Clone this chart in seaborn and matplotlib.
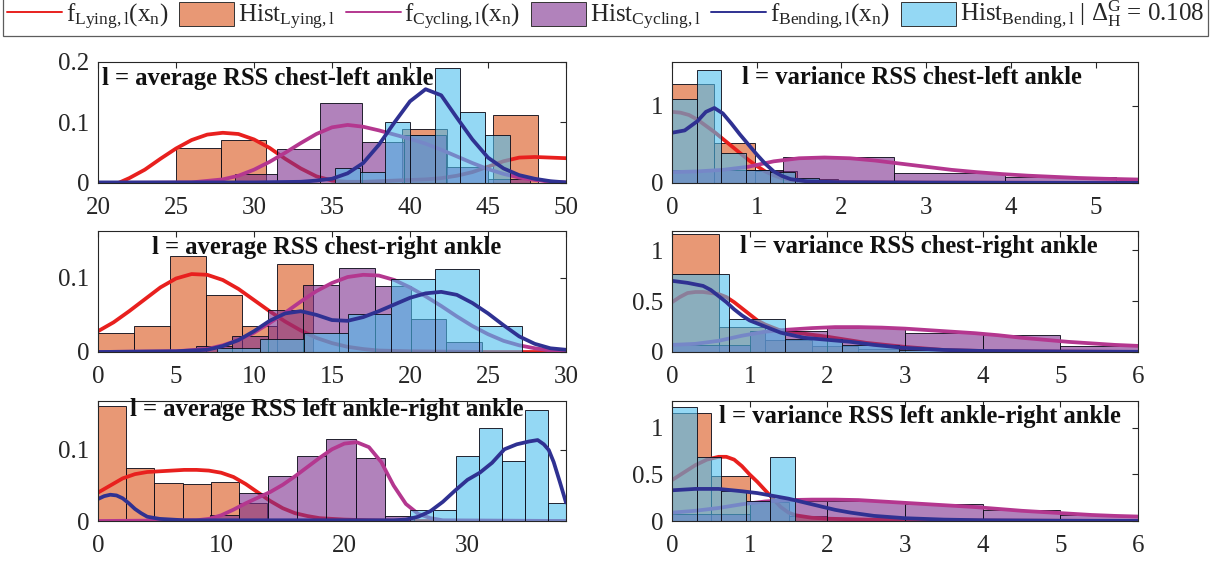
import numpy as np
import pandas as pd
import matplotlib
matplotlib.use("Agg")
import matplotlib.pyplot as plt
from matplotlib.lines import Line2D
from matplotlib.patches import Patch
import seaborn as sns

sns.set_theme(style="white")
plt.rcParams["font.family"] = ["Liberation Serif", "DejaVu Serif"]
plt.rcParams["mathtext.fontset"] = "custom"
plt.rcParams["mathtext.rm"] = "Liberation Serif"
plt.rcParams["mathtext.it"] = "Liberation Serif:italic"
plt.rcParams["mathtext.bf"] = "Liberation Serif:bold"

# ---------------------------------------------------------------- data
# Panel 1: average RSS chest-left ankle
p1_lying_edges = [25.0, 27.9, 30.8, 33.7, 36.6, 39.5, 42.4, 45.3, 48.2]
p1_lying_hist = [0.058, 0.071, 0.0, 0.0, 0.0, 0.090, 0.0, 0.113]
p1_cyc_edges = [28.8, 31.5, 34.2, 36.9, 39.6, 42.3, 45.0, 47.7]
p1_cyc_hist = [0.015, 0.056, 0.133, 0.068, 0.080, 0.027, 0.007]
p1_bend_edges = [35.2, 36.8, 38.4, 40.0, 41.6, 43.2, 44.8, 46.4]
p1_bend_hist = [0.025, 0.018, 0.101, 0.080, 0.190, 0.117, 0.079]
p1_lying_fx = [21.3, 22, 23, 24, 25, 26, 27, 28, 29, 30, 31, 32, 33, 34, 35, 36, 37, 38,
               39, 40, 41, 42, 43, 44, 45, 46, 47, 48, 49, 50]
p1_lying_fy = [0.0, 0.008, 0.022, 0.040, 0.057, 0.071, 0.080, 0.083, 0.081, 0.072, 0.058,
               0.040, 0.024, 0.011, 0.004, 0.002, 0.002, 0.003, 0.004, 0.005, 0.006, 0.008,
               0.012, 0.018, 0.027, 0.036, 0.042, 0.043, 0.042, 0.041]
p1_cyc_fx = [20, 26, 28, 29, 30, 31, 32, 33, 34, 35, 36, 37, 38, 39, 40, 41, 42, 43, 44, 45,
             46, 47, 48, 49, 50]
p1_cyc_fy = [0.0, 0.001, 0.006, 0.012, 0.022, 0.035, 0.050, 0.066, 0.081, 0.092, 0.096,
             0.093, 0.087, 0.080, 0.073, 0.065, 0.055, 0.044, 0.033, 0.023, 0.015, 0.009,
             0.005, 0.002, 0.001]
p1_bend_fx = [20, 30, 33, 34, 35, 36, 37, 38, 39, 40, 41, 42, 43, 44, 45, 46, 47, 48, 49, 50]
p1_bend_fy = [0.001, 0.001, 0.002, 0.004, 0.007, 0.016, 0.033, 0.063, 0.100, 0.135, 0.155,
              0.145, 0.108, 0.072, 0.042, 0.024, 0.013, 0.007, 0.003, 0.001]

# Panel 2: variance RSS chest-left ankle
p2_lying_edges = [0.0, 0.49, 0.98, 1.47, 1.96, 2.45]
p2_lying_hist = [1.28, 0.52, 0.15, 0.05, 0.02]
p2_cyc_edges = [0.0, 1.31, 2.62, 3.93, 5.24, 6.55]
p2_cyc_hist = [0.17, 0.33, 0.13, 0.078, 0.03]
p2_bend_edges = [0.0, 0.29, 0.58, 0.87, 1.16, 1.45, 1.74, 2.03, 2.32, 2.61]
p2_bend_hist = [1.09, 1.46, 0.39, 0.17, 0.14, 0.06, 0.03, 0.02, 0.01]
p2_lying_fx = [0, 0.1, 0.2, 0.3, 0.4, 0.5, 0.6, 0.7, 0.8, 0.9, 1.0, 1.1, 1.2, 1.3, 1.4, 1.6,
               2.0, 3.0, 5.5]
p2_lying_fy = [0.92, 0.91, 0.88, 0.82, 0.74, 0.66, 0.57, 0.48, 0.39, 0.30, 0.22, 0.15, 0.10,
               0.06, 0.04, 0.02, 0.01, 0.005, 0.0]
p2_cyc_fx = [0, 0.3, 0.6, 0.9, 1.2, 1.5, 1.8, 2.1, 2.4, 2.7, 3.0, 3.3, 3.6, 3.9, 4.2, 4.5,
             4.8, 5.1, 5.5]
p2_cyc_fy = [0.14, 0.15, 0.17, 0.21, 0.28, 0.32, 0.33, 0.32, 0.29, 0.25, 0.21, 0.17, 0.14,
             0.115, 0.095, 0.08, 0.065, 0.055, 0.045]
p2_bend_fx = [0, 0.15, 0.3, 0.4, 0.5, 0.6, 0.7, 0.8, 0.9, 1.0, 1.1, 1.2, 1.3, 1.4, 1.6, 2.0,
              3.0, 5.5]
p2_bend_fy = [0.65, 0.68, 0.80, 0.92, 0.97, 0.90, 0.77, 0.63, 0.50, 0.37, 0.25, 0.15, 0.09,
              0.05, 0.02, 0.01, 0.005, 0.0]

# Panel 3: average RSS chest-right ankle
p3_lying_edges = [0.0, 2.3, 4.6, 6.9, 9.2, 11.5, 13.8]
p3_lying_hist = [0.025, 0.035, 0.129, 0.077, 0.035, 0.119]
p3_cyc_edges = [6.3, 8.59, 10.88, 13.17, 15.46, 17.75, 20.04, 22.33, 24.62]
p3_cyc_hist = [0.008, 0.021, 0.056, 0.090, 0.113, 0.089, 0.045, 0.013]
p3_bend_edges = [7.6, 10.4, 13.2, 16.0, 18.8, 21.6, 24.4, 27.2]
p3_bend_hist = [0.005, 0.018, 0.025, 0.051, 0.099, 0.112, 0.035]
p3_lying_fx = [0, 1, 2, 3, 4, 5, 6, 7, 8, 9, 10, 11, 12, 13, 14, 15, 16, 17, 18, 20, 25, 30]
p3_lying_fy = [0.028, 0.040, 0.055, 0.071, 0.087, 0.099, 0.105, 0.104, 0.097, 0.085, 0.070,
               0.055, 0.041, 0.029, 0.019, 0.012, 0.007, 0.004, 0.002, 0.001, 0.0, 0.0]
p3_cyc_fx = [0, 5, 7, 8, 9, 10, 11, 12, 13, 14, 15, 16, 17, 18, 19, 20, 21, 22, 23, 24, 25,
             26, 27, 28, 29, 30]
p3_cyc_fy = [0.0, 0.001, 0.004, 0.009, 0.016, 0.026, 0.039, 0.053, 0.068, 0.082, 0.093,
             0.101, 0.104, 0.103, 0.097, 0.087, 0.075, 0.062, 0.048, 0.035, 0.024, 0.015,
             0.009, 0.005, 0.002, 0.001]
p3_bend_fx = [0, 5, 7, 8, 9, 10, 11, 12, 13, 14, 15, 16, 17, 18, 19, 20, 21, 22, 23, 24, 25,
              26, 27, 28, 29, 30]
p3_bend_fy = [0.0, 0.001, 0.003, 0.008, 0.016, 0.028, 0.042, 0.052, 0.055, 0.050, 0.043,
              0.042, 0.047, 0.055, 0.064, 0.073, 0.079, 0.081, 0.077, 0.066, 0.052, 0.036,
              0.021, 0.011, 0.005, 0.003]

# Panel 4: variance RSS chest-right ankle
p4_lying_edges = [0.0, 0.6, 1.2, 1.8, 2.4, 3.0]
p4_lying_hist = [1.16, 0.25, 0.12, 0.06, 0.03]
p4_cyc_edges = [0, 1, 2, 3, 4, 5, 6]
p4_cyc_hist = [0.07, 0.21, 0.233, 0.19, 0.167, 0.06]
p4_bend_edges = [0.0, 0.73, 1.46, 2.19, 2.92, 3.65, 4.38]
p4_bend_hist = [0.77, 0.32, 0.127, 0.067, 0.02, 0.01]
p4_lying_fx = [0, 0.1, 0.2, 0.3, 0.4, 0.5, 0.6, 0.7, 0.8, 0.9, 1.0, 1.1, 1.2, 1.3, 1.4, 1.6,
               2.0, 2.5, 3.0, 3.5, 4.0, 6.0]
p4_lying_fy = [0.49, 0.54, 0.58, 0.59, 0.59, 0.58, 0.57, 0.54, 0.49, 0.43, 0.37, 0.31, 0.27,
               0.24, 0.21, 0.19, 0.15, 0.09, 0.05, 0.02, 0.01, 0.0]
p4_cyc_fx = [0, 0.3, 0.6, 0.9, 1.2, 1.5, 1.8, 2.1, 2.4, 2.7, 3.0, 3.3, 3.6, 3.9, 4.2, 4.5,
             4.8, 5.1, 5.4, 5.7, 6.0]
p4_cyc_fy = [0.07, 0.08, 0.11, 0.16, 0.20, 0.22, 0.235, 0.245, 0.245, 0.24, 0.23, 0.215,
             0.20, 0.185, 0.165, 0.14, 0.12, 0.10, 0.085, 0.07, 0.06]
p4_bend_fx = [0, 0.2, 0.4, 0.5, 0.6, 0.7, 0.8, 0.9, 1.0, 1.2, 1.4, 1.7, 2.0, 2.3, 2.6, 3.0,
              3.5, 4.0, 5.0, 6.0]
p4_bend_fy = [0.70, 0.68, 0.65, 0.61, 0.55, 0.49, 0.42, 0.36, 0.31, 0.25, 0.19, 0.14, 0.12,
              0.10, 0.07, 0.04, 0.02, 0.01, 0.005, 0.002]

# Panel 5: average RSS left ankle-right ankle
p5_lying_edges = [0.0, 2.29, 4.58, 6.87, 9.16, 11.45, 13.74]
p5_lying_hist = [0.162, 0.075, 0.053, 0.052, 0.055, 0.026]
p5_cyc_edges = [9.07, 11.44, 13.81, 16.18, 18.55, 20.92, 23.29, 25.66]
p5_cyc_hist = [0.008, 0.040, 0.064, 0.092, 0.115, 0.089, 0.007]
p5_bend_edges = [25.3, 27.17, 29.04, 30.91, 32.78, 34.65, 36.52, 38.39]
p5_bend_hist = [0.016, 0.015, 0.092, 0.131, 0.085, 0.156, 0.026]
p5_lying_fx = [0, 1, 2, 3, 4, 5, 6, 7, 8, 9, 10, 11, 12, 13, 14, 15, 16, 17, 18, 20, 22, 25, 38]
p5_lying_fy = [0.040, 0.050, 0.060, 0.066, 0.069, 0.070, 0.071, 0.072, 0.072, 0.071, 0.068,
               0.062, 0.052, 0.040, 0.028, 0.018, 0.011, 0.007, 0.004, 0.002, 0.001, 0.0, 0.0]
p5_cyc_fx = [0, 8, 9, 10, 11, 12, 13, 14, 15, 16, 17, 18, 19, 20, 21, 22, 23, 24, 25, 26, 27,
             28, 38]
p5_cyc_fy = [0.0, 0.001, 0.003, 0.008, 0.016, 0.025, 0.033, 0.041, 0.051, 0.063, 0.076, 0.089,
             0.101, 0.109, 0.111, 0.104, 0.083, 0.050, 0.024, 0.010, 0.004, 0.001, 0.0]
p5_bend_fx = [0, 0.5, 1, 1.5, 2, 2.5, 3, 3.5, 4, 5, 7, 24, 25, 26, 27, 28, 29, 30, 31, 32, 33,
              34, 35, 35.7, 36.2, 36.6, 37, 37.5, 38]
p5_bend_fy = [0.031, 0.035, 0.037, 0.036, 0.032, 0.025, 0.017, 0.011, 0.006, 0.003, 0.001,
              0.001, 0.002, 0.006, 0.014, 0.027, 0.043, 0.058, 0.068, 0.082, 0.101, 0.108,
              0.112, 0.114, 0.108, 0.100, 0.083, 0.055, 0.026]

# Panel 6: variance RSS left ankle-right ankle
p6_lying_edges = [0.0, 0.5, 1.0, 1.5, 2.0, 2.5]
p6_lying_hist = [1.16, 0.48, 0.20, 0.05, 0.02]
p6_cyc_edges = [0, 1, 2, 3, 4, 5, 6]
p6_cyc_hist = [0.07, 0.21, 0.22, 0.18, 0.12, 0.06]
p6_bend_edges = [0.0, 0.317, 0.634, 0.951, 1.268, 1.585]
p6_bend_hist = [1.23, 0.69, 0.32, 0.21, 0.69]
p6_lying_fx = [0, 0.15, 0.3, 0.45, 0.6, 0.7, 0.8, 0.9, 1.0, 1.1, 1.2, 1.3, 1.4, 1.5, 1.6,
               1.8, 2.0, 2.5, 3.0, 4.0, 6.0]
p6_lying_fy = [0.44, 0.52, 0.60, 0.66, 0.69, 0.69, 0.66, 0.59, 0.50, 0.42, 0.33, 0.24, 0.15,
               0.09, 0.06, 0.035, 0.025, 0.015, 0.01, 0.005, 0.0]
p6_cyc_fx = [0, 0.3, 0.6, 0.9, 1.2, 1.5, 1.8, 2.1, 2.4, 2.7, 3.0, 3.3, 3.6, 3.9, 4.2, 4.5,
             4.8, 5.1, 5.4, 5.7, 6.0]
p6_cyc_fy = [0.09, 0.11, 0.14, 0.18, 0.21, 0.225, 0.23, 0.23, 0.225, 0.21, 0.195, 0.18,
             0.165, 0.15, 0.13, 0.11, 0.095, 0.08, 0.065, 0.055, 0.048]
p6_bend_fx = [0, 0.3, 0.6, 0.9, 1.1, 1.3, 1.5, 1.7, 1.9, 2.1, 2.3, 2.6, 3.0, 3.5, 4.0, 5.0, 6.0]
p6_bend_fy = [0.33, 0.345, 0.345, 0.32, 0.30, 0.27, 0.24, 0.20, 0.16, 0.12, 0.09, 0.055,
              0.03, 0.015, 0.008, 0.003, 0.001]

panel_titles = [
    "l = average RSS chest-left ankle",
    "l = variance RSS chest-left ankle",
    "l = average RSS chest-right ankle",
    "l = variance RSS chest-right ankle",
    "l = average RSS left ankle-right ankle",
    "l = variance RSS left ankle-right ankle",
]
legend_labels = [
    r"$\mathregular{f_{Lying,l}(x_n)}$",
    r"$\mathregular{Hist_{Lying,l}}$",
    r"$\mathregular{f_{Cycling,l}(x_n)}$",
    r"$\mathregular{Hist_{Cycling,l}}$",
    r"$\mathregular{f_{Bending,l}(x_n)}$",
    r"$\mathregular{Hist_{Bending,l}}$ | $\mathregular{\Delta_H^G}$ = 0.108",
]

# ---------------------------------------------------------------- style
hist_rgb = {"Lying": (0.850, 0.325, 0.098),
            "Cycling": (0.494, 0.184, 0.556),
            "Bending": (0.301, 0.745, 0.933)}
line_rgb = {"Lying": "#E8201E", "Cycling": "#B4378F", "Bending": "#2F3192"}
FACE_ALPHA = 0.6
LINE_W = 2.7

panels = [
    dict(series=[(p1_lying_fx, p1_lying_fy, p1_lying_edges, p1_lying_hist),
                 (p1_cyc_fx, p1_cyc_fy, p1_cyc_edges, p1_cyc_hist),
                 (p1_bend_fx, p1_bend_fy, p1_bend_edges, p1_bend_hist)],
         xlim=(20, 50), ylim=(0, 0.2), xticks=[20, 25, 30, 35, 40, 45, 50],
         yticks=[0, 0.1, 0.2], rect=(98, 566, 62, 183), title=(0.009, 0.81, "left")),
    dict(series=[(p2_lying_fx, p2_lying_fy, p2_lying_edges, p2_lying_hist),
                 (p2_cyc_fx, p2_cyc_fy, p2_cyc_edges, p2_cyc_hist),
                 (p2_bend_fx, p2_bend_fy, p2_bend_edges, p2_bend_hist)],
         xlim=(0, 5.5), ylim=(0, 1.565), xticks=[0, 1, 2, 3, 4, 5],
         yticks=[0, 1], rect=(672, 1138, 62, 183), title=(0.151, 0.816, "left")),
    dict(series=[(p3_lying_fx, p3_lying_fy, p3_lying_edges, p3_lying_hist),
                 (p3_cyc_fx, p3_cyc_fy, p3_cyc_edges, p3_cyc_hist),
                 (p3_bend_fx, p3_bend_fy, p3_bend_edges, p3_bend_hist)],
         xlim=(0, 30), ylim=(0, 0.163), xticks=[0, 5, 10, 15, 20, 25, 30],
         yticks=[0, 0.1], rect=(98, 566, 231, 352), title=(0.489, 0.806, "center")),
    dict(series=[(p4_lying_fx, p4_lying_fy, p4_lying_edges, p4_lying_hist),
                 (p4_cyc_fx, p4_cyc_fy, p4_cyc_edges, p4_cyc_hist),
                 (p4_bend_fx, p4_bend_fy, p4_bend_edges, p4_bend_hist)],
         xlim=(0, 6), ylim=(0, 1.19), xticks=[0, 1, 2, 3, 4, 5, 6],
         yticks=[0, 0.5, 1], rect=(672, 1138, 231, 352), title=(0.146, 0.816, "left")),
    dict(series=[(p5_lying_fx, p5_lying_fy, p5_lying_edges, p5_lying_hist),
                 (p5_cyc_fx, p5_cyc_fy, p5_cyc_edges, p5_cyc_hist),
                 (p5_bend_fx, p5_bend_fy, p5_bend_edges, p5_bend_hist)],
         xlim=(0, 38), ylim=(0, 0.169), xticks=[0, 10, 20, 30],
         yticks=[0, 0.1], rect=(98, 566, 401, 521), title=(0.068, 0.875, "left")),
    dict(series=[(p6_lying_fx, p6_lying_fy, p6_lying_edges, p6_lying_hist),
                 (p6_cyc_fx, p6_cyc_fy, p6_cyc_edges, p6_cyc_hist),
                 (p6_bend_fx, p6_bend_fy, p6_bend_edges, p6_bend_hist)],
         xlim=(0, 6), ylim=(0, 1.29), xticks=[0, 1, 2, 3, 4, 5, 6],
         yticks=[0, 0.5, 1], rect=(672, 1138, 401, 521), title=(0.101, 0.814, "left")),
]

W, H = 1212, 565
fig = plt.figure(figsize=(W / 100, H / 100), dpi=100)
fig.patch.set_facecolor("white")

classes = ["Lying", "Cycling", "Bending"]
for panel, title in zip(panels, panel_titles):
    x0, x1, y0, y1 = panel["rect"]
    ax = fig.add_axes([x0 / W, 1 - y1 / H, (x1 - x0) / W, (y1 - y0) / H])
    z = 1
    for cls, (fx, fy, edges, heights) in zip(classes, panel["series"]):
        # histogram of the class (pdf-normalised bar heights), then its density curve
        edge_arr = np.asarray(edges, dtype=float)
        bins = pd.DataFrame({"center": 0.5 * (edge_arr[:-1] + edge_arr[1:]),
                             "height": heights})
        n_before = len(ax.patches)
        sns.histplot(data=bins, x="center", weights="height", bins=list(edges),
                     stat="count", ax=ax, color=hist_rgb[cls], linewidth=0.7)
        for p in ax.patches[n_before:]:
            p.set_alpha(None)
            p.set_facecolor((*hist_rgb[cls], FACE_ALPHA))
            p.set_edgecolor((0.05, 0.05, 0.1, 0.9))
            p.set_linewidth(0.7)
            p.set_zorder(z)
        curve = pd.DataFrame({"x": fx, "density": fy})
        sns.lineplot(data=curve, x="x", y="density", ax=ax, color=line_rgb[cls],
                     linewidth=LINE_W, zorder=z + 1, legend=False)
        z += 2
    ax.set_xlim(*panel["xlim"])
    ax.set_ylim(*panel["ylim"])
    ax.set_xticks(panel["xticks"])
    ax.set_yticks(panel["yticks"])
    ax.set_xticklabels([f"{t:g}" for t in panel["xticks"]])
    ax.set_yticklabels([f"{t:g}" for t in panel["yticks"]])
    ax.set_xlabel("")
    ax.set_ylabel("")
    ax.set_facecolor("white")
    ax.tick_params(direction="in", length=4, width=0.8, top=True, right=True,
                   labelsize=18, colors="#262626", pad=6)
    ax.tick_params(axis="x", pad=10)
    for s in ax.spines.values():
        s.set_visible(True)
        s.set_color("#262626")
        s.set_linewidth(0.8)
        s.set_zorder(20)
    tx, ty, ha = panel["title"]
    ax.text(tx, ty, title, transform=ax.transAxes, ha=ha, va="baseline",
            fontsize=17.7, fontweight="bold", color="#111111", zorder=30)

handles = [
    Line2D([], [], color=line_rgb["Lying"], linewidth=1.4),
    Patch(facecolor=(*hist_rgb["Lying"], FACE_ALPHA), edgecolor="#333333", linewidth=0.7),
    Line2D([], [], color=line_rgb["Cycling"], linewidth=1.4),
    Patch(facecolor=(*hist_rgb["Cycling"], FACE_ALPHA), edgecolor="#333333", linewidth=0.7),
    Line2D([], [], color=line_rgb["Bending"], linewidth=1.4),
    Patch(facecolor=(*hist_rgb["Bending"], FACE_ALPHA), edgecolor="#333333", linewidth=0.7),
]
leg = fig.legend(handles, legend_labels, loc="lower left",
                 bbox_to_anchor=(3 / W, 1 - 36 / H, 1205 / W, 34 / H), mode="expand",
                 ncol=6, fontsize=18, frameon=True, fancybox=False, borderaxespad=0,
                 handlelength=2.2, handleheight=1.1, handletextpad=0.15,
                 columnspacing=0.3, borderpad=0.15)
leg.get_frame().set_edgecolor("#333333")
leg.get_frame().set_linewidth(0.9)

fig.savefig("out.png", dpi=100, facecolor="white")
